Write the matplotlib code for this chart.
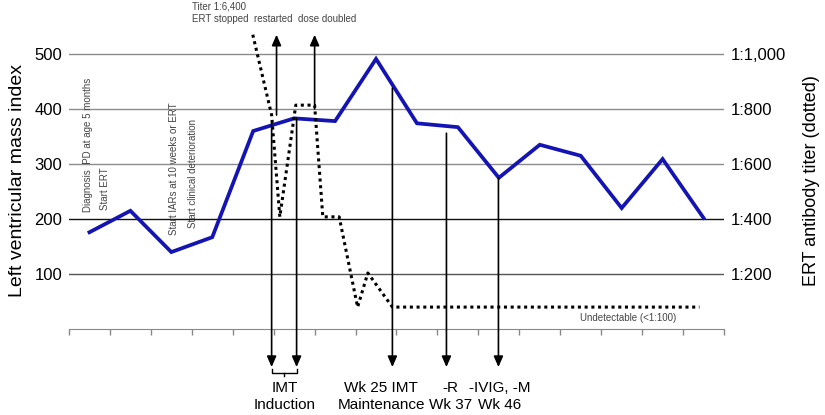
import matplotlib
matplotlib.use("Agg")
import matplotlib.pyplot as plt

plt.rcParams['font.family'] = ['Liberation Sans', 'DejaVu Sans']

# left ventricular mass index, one value per interval
lvmi_x = [0.5, 1.5, 2.5, 3.5, 4.5, 5.5, 6.5, 7.5, 8.5, 9.5, 10.5, 11.5, 12.5, 13.5, 14.5, 15.5]
lvmi = [176, 215, 140, 167, 360, 383, 378, 491, 374, 367, 275, 335, 315, 220, 309, 202]

# antibody titer (dotted), plotted on the same 0-500 scale as the right axis
titer_x = [4.49, 4.95, 5.15, 5.54, 6.0, 6.2, 6.6, 7.05, 7.3, 7.9, 15.4]
titer_y = [535, 389, 204, 407, 407, 204, 204, 40, 102, 40, 40]

grid_levels = [100, 200, 300, 400, 500]
grid_colors = ['#555555', '#111111', '#8c8c8c', '#8c8c8c', '#8c8c8c']
right_labels = ['1:200', '1:400', '1:600', '1:800', '1:1,000']

# event arrows
up_x = [5.07, 6.0]
up_from = [389, 400]
down_x = [4.95, 5.56, 7.9, 9.22, 10.49]
down_from = [375, 383, 438, 356, 275]

bottom_labels = [(5.27, 'IMT\nInduction'), (7.63, 'Wk 25 IMT\nMaintenance'),
                 (9.32, '-R\nWk 37'), (10.51, '-IVIG, -M\nWk 46')]

side_notes = [(0.46, 213, 'Diagnosis  PD at age 5 months'), (0.88, 216, 'Start ERT'),
              (2.56, 171, 'Start IARs at 10 weeks or ERT'), (3.02, 184, 'Start clinical deterioration')]

fig = plt.figure(figsize=(8.25, 4.15), dpi=100)
ax = fig.add_axes([0.0836, 0.207, 0.7940, 0.716])

for lvl, c in zip(grid_levels, grid_colors):
    ax.axhline(lvl, color=c, lw=1.0, zorder=1)

ax.plot(lvmi_x, lvmi, color='#1414b4', lw=2.7, zorder=3, solid_joinstyle='miter')
ax.plot(titer_x, titer_y, color='black', lw=2.2, ls=(0, (1, 1.2)), zorder=3, clip_on=False)

arrow_kw = dict(arrowstyle='-|>,head_length=0.8,head_width=0.35', color='black',
                lw=1.2, mutation_scale=8, shrinkA=0, shrinkB=0)
for x, y0 in zip(up_x, up_from):
    ax.annotate('', xy=(x, 535), xytext=(x, y0), arrowprops=arrow_kw, annotation_clip=False)
for x, y0 in zip(down_x, down_from):
    ax.annotate('', xy=(x, -69), xytext=(x, y0), arrowprops=arrow_kw, annotation_clip=False)

# brace under the induction arrows
bx0, bx1 = down_x[0], down_x[1]
bm = (bx0 + bx1) / 2
ax.plot([bx0, bx0, bx1, bx1], [-72, -80, -80, -72], color='black', lw=1.0, clip_on=False)
ax.plot([bm, bm], [-80, -86], color='black', lw=1.0, clip_on=False)

for x, txt in bottom_labels:
    ax.text(x, -94, txt, ha='center', va='top', fontsize=11, linespacing=1.3)

for x, y, txt in side_notes:
    ax.text(x, y, txt, rotation=90, ha='center', va='bottom', fontsize=7, color='#444444')

ax.text(13.66, 20, 'Undetectable (<1:100)', ha='center', va='center', fontsize=7, color='#444444')

fig.text(0.233, 0.985, 'Titer 1:6,400', fontsize=7, color='#444444', va='center')
fig.text(0.233, 0.954, 'ERT stopped  restarted  dose doubled', fontsize=7, color='#444444', va='center')

ax.set_xlim(0, 16)
ax.set_ylim(0, 540)
ax.set_xticks(range(0, 17))
ax.set_xticklabels([])
ax.tick_params(axis='x', direction='out', length=4, color='#888888', width=1)
ax.set_yticks(grid_levels)
ax.set_yticklabels([str(v) for v in grid_levels], fontsize=12)
ax.tick_params(axis='y', length=0, pad=5)
for s in ['top', 'right', 'left']:
    ax.spines[s].set_visible(False)
ax.spines['bottom'].set_color('#888888')
ax.set_ylabel('Left ventricular mass index', fontsize=14, labelpad=6)

ax2 = ax.twinx()
ax2.set_ylim(ax.get_ylim())
ax2.set_yticks(grid_levels)
ax2.set_yticklabels(right_labels, fontsize=12)
ax2.tick_params(axis='y', length=0, pad=5)
for s in ax2.spines.values():
    s.set_visible(False)
ax2.set_ylabel('ERT antibody titer (dotted)', fontsize=13, labelpad=12)

fig.savefig('out.png', dpi=100)
